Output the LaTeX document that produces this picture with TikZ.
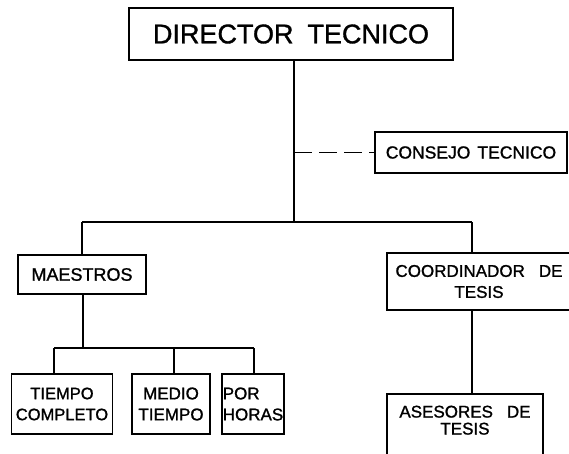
\documentclass[tikz,border=0pt]{standalone}
\usepackage{fontspec}
\setmainfont{Liberation Sans}
\newfontfamily\chartfont[RawFeature={embolden=1.2}]{Liberation Sans}
\usetikzlibrary{positioning}
\begin{document}
\begin{tikzpicture}[x=1pt,y=-1pt,
	box/.style={draw,line width=1.7pt,inner sep=0pt,align=center,
		font=\chartfont\fontsize{17}{21}\selectfont},
	link/.style={line width=1.7pt},
	dashlink/.style={line width=1.7pt,dash pattern=on 18pt off 7pt}]

		 \useasboundingbox (0,0) rectangle (569,453);
		 \clip (0,0) rectangle (569,453); % the two right boxes run off the page
		 
		  % top of the chart
		  \node[box,minimum width=324,minimum height=52,font=\chartfont\fontsize{27}{30}\selectfont]
		  	(director) at (291,34) {DIRECTOR\hspace{14pt}TECNICO};
		  \node[box,minimum width=192,minimum height=41,font=\chartfont\fontsize{17.5}{21}\selectfont]
		  	(consejo) at (471,152.5) {CONSEJO\hspace{7pt}TECNICO};
		  
		  % second level
		  \node[box,minimum width=128,minimum height=39,font=\chartfont\fontsize{18}{21}\selectfont]
		  	(maestros) at (82,274.5) {MAESTROS};
		  \node[box,minimum width=184,minimum height=57] (coordinador) at (479,281.5)
		  	{COORDINADOR\hspace{14pt}DE\\TESIS};
		  
		  % third level
		  \node[box,minimum width=101,minimum height=60,font=\chartfont\fontsize{16.5}{21}\selectfont]
		  	(completo) at (62,404) {TIEMPO\\COMPLETO};
		  \node[box,minimum width=78,minimum height=60] (medio) at (171,404)
		  	{MEDIO\\TIEMPO};
		  \node[box,minimum width=62,minimum height=60,align=left] (horas) at (253,404)
		  	{POR\\HORAS};
		  \node[box,minimum width=156,minimum height=80] (asesores) at (465,434) {};
		  \node[font=\chartfont\fontsize{17}{17}\selectfont,align=center,below=9pt of asesores.north]
		  	(asesorestxt) {ASESORES\hspace{14pt}DE\\TESIS};
		  
		  \coordinate (hub) at (294,222);
		  \coordinate (hubL) at (82,222);
		  \coordinate (hubR) at (472,222);
		  \coordinate (lowhub) at (83,348);
		  \coordinate (lowL) at (54,348);
		  \coordinate (lowM) at (174,348);
		  \coordinate (lowR) at (254,348);
		  
		  \draw [link] (director.south -| hub) -- (hub);
		  \draw [dashlink] (consejo.west -| hub) -- (consejo.west);
		  \draw [link] (hubL) -- (hubR);
		  \draw [link] (hubL) -- (maestros.north);
		  \draw [link] (hubR) -- (hubR |- coordinador.north);
		  \draw [link] (coordinador.south -| hubR) -- (asesores.north -| hubR);
		  
		  \draw [link] (maestros.south -| lowhub) -- (lowhub);
		  \draw [link] (lowL) -- (lowR);
		  \foreach \b/\c in {completo/lowL,medio/lowM,horas/lowR}{% drops to the three kinds of teachers
		  	\draw [link] (\c) -- (\b.north -| \c);
		  }

\end{tikzpicture}
\end{document}
